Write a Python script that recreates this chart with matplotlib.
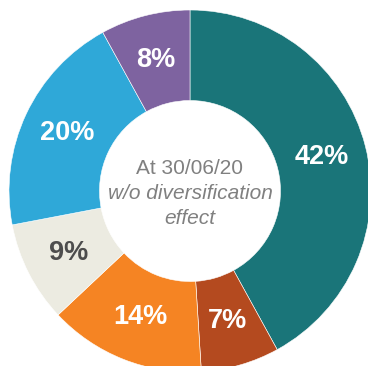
import matplotlib.pyplot as plt
import numpy as np

shares = [42, 7, 14, 9, 20, 8]
labels = ['42%', '7%', '14%', '9%', '20%', '8%']
colors = ['#1a7579', '#b44a1f', '#f58423', '#ecebe1', '#2fa8d8', '#7e63a0']
label_colors = ['white', 'white', 'white', '#4d4d4d', 'white', 'white']
centre_lines = ['At 30/06/20', 'w/o diversification', 'effect']

plt.rcParams['font.family'] = ['Liberation Sans', 'DejaVu Sans']

fig = plt.figure(figsize=(3.68, 3.66), dpi=100)
# pie centre sits at ~(190, 191) px from top-left, outer radius ~181 px
ax = fig.add_axes([9 / 368, -6 / 366, 362 / 368, 362 / 366])

wedges, _ = ax.pie(shares, colors=colors, startangle=90, counterclock=False,
                   radius=1.0, wedgeprops=dict(width=0.5, edgecolor='white', linewidth=0.4))

# percent labels in the middle of each ring segment
for w, lab, c in zip(wedges, labels, label_colors):
    ang = np.deg2rad((w.theta1 + w.theta2) / 2)
    r = 0.75
    ax.text(r * np.cos(ang), r * np.sin(ang), lab, ha='center', va='center',
            fontsize=19.5, fontweight='bold', color=c)

ax.text(0, 0.125, centre_lines[0], ha='center', va='center', fontsize=15, color='#808080')
ax.text(0, -0.015, centre_lines[1], ha='center', va='center', fontsize=15,
        color='#808080', style='italic')
ax.text(0, -0.15, centre_lines[2], ha='center', va='center', fontsize=15,
        color='#808080', style='italic')

ax.set_xlim(-1, 1)
ax.set_ylim(-1, 1)
ax.set_aspect('equal')
ax.axis('off')

fig.savefig('out.png', dpi=100)
